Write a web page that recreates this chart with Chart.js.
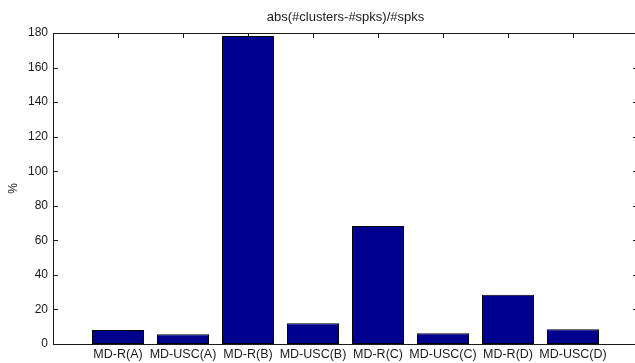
<!DOCTYPE html>
<html>
<head>
<meta charset="utf-8">
<script src="https://cdn.jsdelivr.net/npm/chart.js@4.4.1/dist/chart.umd.min.js"></script>
<style>
    html, body { margin: 0; padding: 0; background: #fff; overflow: hidden; }
    #wrap { width: 635px; height: 363px; overflow: hidden; }
</style>
</head>
<body>
<div id="wrap"><canvas id="chart" width="640" height="363"></canvas></div>
<script>
// Categories and values
const categories = ['MD-R(A)', 'MD-USC(A)', 'MD-R(B)', 'MD-USC(B)', 'MD-R(C)', 'MD-USC(C)', 'MD-R(D)', 'MD-USC(D)'];
const errorPct = [8.1, 5.7, 178.3, 12.0, 68.3, 6.2, 28.5, 8.5];
const yTicks = [0, 20, 40, 60, 80, 100, 120, 140, 160, 180];

const chartTitle = 'abs(#clusters-#spks)/#spks';
const yLabel = '%';

const FONT = '"Liberation Sans", Arial, sans-serif';
const INK = '#1a1a1a';

/**
 * MATLAB style frame: box on all four sides, ticks pointing inward,
 * title above the axes and a rotated y label
 */
const matlabFrame = {
    id: 'matlabFrame',
    beforeDatasetsDraw: (chart) => {
        const ctx = chart.ctx;
        const { top, bottom, left, right } = chart.chartArea;
        const xs = chart.scales.x;
        const ys = chart.scales.y;
        ctx.save();
        ctx.strokeStyle = INK;
        ctx.lineWidth = 1;
        ctx.beginPath();
        yTicks.forEach((v) => {
            const py = Math.round(ys.getPixelForValue(v)) + 0.5;
            ctx.moveTo(left, py);
            ctx.lineTo(left + 5, py);
            ctx.moveTo(right, py);
            ctx.lineTo(right - 5, py);
        });
        categories.forEach((c, i) => {
            const px = Math.round(xs.getPixelForValue(i + 1)) + 0.5;
            ctx.moveTo(px, top);
            ctx.lineTo(px, top + 5);
            ctx.moveTo(px, bottom);
            ctx.lineTo(px, bottom - 5);
        });
        ctx.stroke();
        ctx.restore();
    },
    afterDraw: (chart) => {
        const ctx = chart.ctx;
        const { top, bottom, left, right } = chart.chartArea;
        ctx.save();
        ctx.strokeStyle = INK;
        ctx.lineWidth = 1;
        ctx.beginPath();
        ctx.moveTo(Math.round(left) + 0.5, Math.round(bottom) + 0.5);
        ctx.lineTo(Math.round(left) + 0.5, Math.round(top) + 0.5);
        ctx.lineTo(Math.round(right) + 0.5, Math.round(top) + 0.5);
        ctx.lineTo(Math.round(right) + 0.5, Math.round(bottom) + 0.5);
        ctx.lineTo(Math.round(left) + 0.5, Math.round(bottom) + 0.5);
        ctx.stroke();

        ctx.fillStyle = INK;
        ctx.font = '13px ' + FONT;
        ctx.textAlign = 'center';
        ctx.textBaseline = 'middle';
        ctx.fillText(chartTitle, (left + right) / 2, 17);

        ctx.font = '12px ' + FONT;
        ctx.translate(14, (top + bottom) / 2);
        ctx.rotate(-Math.PI / 2);
        ctx.fillText(yLabel, 0, 0);
        ctx.restore();
    },
};

new Chart(document.getElementById('chart'), {
    type: 'bar',
    data: {
        datasets: [
            {
                label: chartTitle,
                data: errorPct.map((v, i) => ({ x: i + 1, y: v })),
                backgroundColor: '#00008f',
                borderColor: '#000000',
                borderWidth: 1,
                borderSkipped: false,
                barPercentage: 0.8,
                categoryPercentage: 1.0,
            },
        ],
    },
    plugins: [matlabFrame],
    options: {
        responsive: false,
        animation: false,
        layout: { padding: { left: 0, top: 33, right: 2, bottom: 0 } },
        plugins: {
            legend: { display: false },
            tooltip: { enabled: false },
            title: { display: false },
        },
        scales: {
            x: {
                type: 'linear',
                min: 0,
                max: 9,
                offset: false,
                grid: { display: false, drawTicks: false, offset: false },
                border: { display: false },
                afterFit: (scale) => { scale.height = 19; },
                afterBuildTicks: (scale) => {
                    scale.ticks = categories.map((c, i) => ({ value: i + 1 }));
                },
                ticks: {
                    autoSkip: false,
                    maxRotation: 0,
                    padding: 3,
                    color: INK,
                    font: { family: FONT, size: 12.5 },
                    callback: (v) => categories[v - 1] || '',
                },
            },
            y: {
                min: 0,
                max: 180,
                grid: { display: false, drawTicks: false },
                border: { display: false },
                afterFit: (scale) => { scale.width = 53; },
                ticks: {
                    stepSize: 20,
                    padding: 5,
                    color: INK,
                    font: { family: FONT, size: 12 },
                },
            },
        },
    },
});
</script>
</body>
</html>
